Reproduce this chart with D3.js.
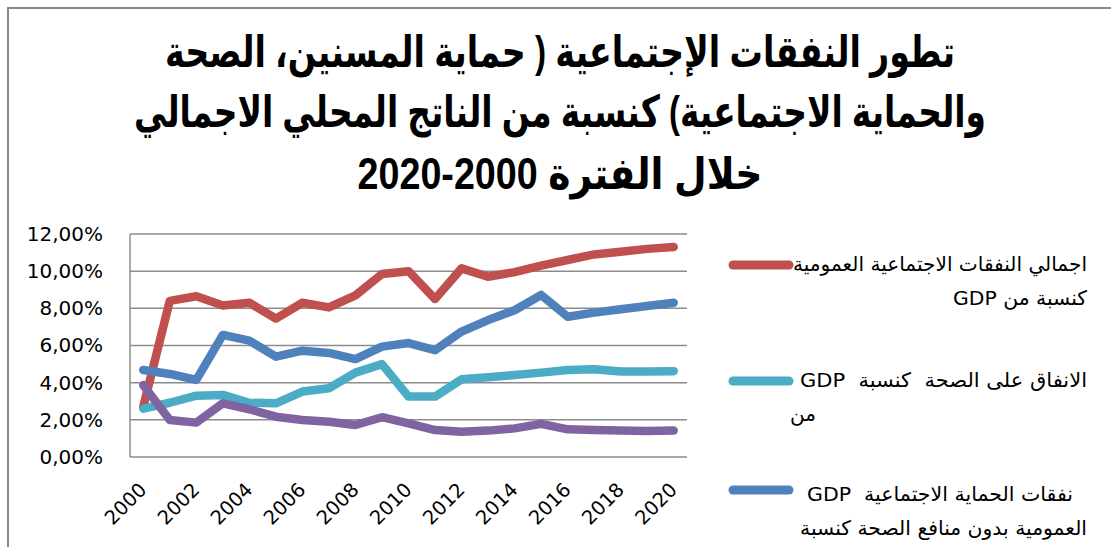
<!DOCTYPE html>
<html>
<head>
<meta charset="utf-8">
<script src="https://cdn.jsdelivr.net/npm/d3@7"></script>
<style>
  html, body { margin: 0; padding: 0; background: #fff; }
  svg { display: block; }
</style>
</head>
<body>
<svg id="chart" width="1111" height="547"></svg>
<script>
// Years on the category axis
const years = d3.range(2000, 2021);

// Series values, share of GDP (%)
const totalSocial = [2.7, 8.4, 8.65, 8.15, 8.3, 7.45, 8.3, 8.05, 8.7, 9.85, 10.0, 8.5, 10.15, 9.7, 9.95, 10.3, 10.6, 10.9, 11.05, 11.2, 11.3];
const healthSpending = [2.6, 2.92, 3.3, 3.34, 2.92, 2.89, 3.52, 3.7, 4.54, 5.0, 3.25, 3.25, 4.18, 4.29, 4.41, 4.54, 4.68, 4.72, 4.6, 4.6, 4.62];
const socialExclHealth = [4.68, 4.47, 4.15, 6.57, 6.26, 5.4, 5.72, 5.6, 5.27, 5.94, 6.13, 5.75, 6.75, 7.37, 7.9, 8.72, 7.55, 7.77, 7.95, 8.13, 8.3];
const elderlyProtection = [3.87, 1.99, 1.85, 2.89, 2.57, 2.17, 1.99, 1.9, 1.72, 2.14, 1.81, 1.45, 1.36, 1.42, 1.54, 1.78, 1.49, 1.45, 1.42, 1.4, 1.42];

// Y axis ticks and labels
const yTicks = [0, 2, 4, 6, 8, 10, 12];
const yTickLabels = ["0,00%", "2,00%", "4,00%", "6,00%", "8,00%", "10,00%", "12,00%"];
// Labelled years on the X axis
const xTickYears = [2000, 2002, 2004, 2006, 2008, 2010, 2012, 2014, 2016, 2018, 2020];

// Title lines (the period is kept left-to-right inside the Arabic line)
const titleLines = [
  "تطور النفقات الإجتماعية ( حماية المسنين، الصحة",
  "والحماية الاجتماعية) كنسبة من الناتج المحلي الاجمالي",
  "خلال الفترة \u202A2020-2000\u202C"
];

// Legend entries (each label wraps over several lines)
const legendLabels = [
  ["اجمالي النفقات الاجتماعية العمومية", "كنسبة من GDP"],
  ["الانفاق على الصحة  كنسبة  GDP", "من"],
  ["نفقات الحماية الاجتماعية  GDP", "العمومية بدون منافع الصحة كنسبة", "من"]
];

const series = [
  { values: totalSocial, color: "#C0504D" },
  { values: healthSpending, color: "#4BACC6" },
  { values: socialExclHealth, color: "#4F81BD" },
  { values: elderlyProtection, color: "#8064A2" }
];

const svg = d3.select("#chart");

// Outer chart frame
svg.append("rect")
  .attr("x", 8).attr("y", 8)
  .attr("width", 1200).attr("height", 700)
  .attr("fill", "none")
  .attr("stroke", "#8a8a8a")
  .attr("stroke-width", 2);

// Title
const titleWidths = [790, 852, 405];
const titleBaselines = [67, 127, 189];
svg.append("g").selectAll("text")
  .data(titleLines)
  .join("text")
  .attr("x", 560)
  .attr("y", (d, i) => titleBaselines[i])
  .attr("text-anchor", "middle")
  .attr("direction", "rtl")
  .attr("font-family", "'Liberation Sans', 'DejaVu Sans', sans-serif")
  .attr("font-weight", "bold")
  .attr("font-size", 44)
  .attr("fill", "#000")
  .attr("textLength", (d, i) => titleWidths[i])
  .attr("lengthAdjust", "spacingAndGlyphs")
  .text(d => d);

// Plot area
const plot = { left: 130, right: 687, top: 234, bottom: 457 };

const x = d3.scalePoint()
  .domain(years)
  .range([plot.left, plot.right])
  .padding(0.5);

const y = d3.scaleLinear()
  .domain([0, 12])
  .range([plot.bottom, plot.top]);

// Horizontal gridlines
svg.append("g")
  .selectAll("line")
  .data(yTicks)
  .join("line")
  .attr("x1", plot.left).attr("x2", plot.right)
  .attr("y1", d => y(d)).attr("y2", d => y(d))
  .attr("stroke", "#8c8c8c")
  .attr("stroke-width", 1.5);

// Vertical value axis line
svg.append("line")
  .attr("x1", plot.left).attr("x2", plot.left)
  .attr("y1", plot.top).attr("y2", plot.bottom)
  .attr("stroke", "#8c8c8c")
  .attr("stroke-width", 1.5);

// Y axis labels
const yAxis = d3.axisLeft(y)
  .tickValues(yTicks)
  .tickSize(0)
  .tickPadding(0)
  .tickFormat((d, i) => yTickLabels[i]);

const yAxisG = svg.append("g")
  .attr("transform", `translate(${plot.left - 27},0)`)
  .call(yAxis);
yAxisG.select(".domain").remove();
yAxisG.selectAll("text")
  .attr("font-family", "'DejaVu Sans', sans-serif")
  .attr("font-size", 20)
  .attr("fill", "#000");

// X axis labels, rotated
const xAxis = d3.axisBottom(x)
  .tickValues(xTickYears)
  .tickSize(0)
  .tickPadding(0);

const xAxisG = svg.append("g")
  .attr("transform", `translate(0,${plot.bottom})`)
  .call(xAxis);
xAxisG.select(".domain").remove();
xAxisG.selectAll(".tick text")
  .attr("font-family", "'DejaVu Sans', sans-serif")
  .attr("font-size", 19.5)
  .attr("fill", "#000")
  .attr("text-anchor", "end")
  .attr("dy", 0)
  .attr("y", 0)
  .attr("transform", "translate(4,34) rotate(-45)");

// Series lines
const line = d3.line()
  .x((d, i) => x(years[i]))
  .y(d => y(d));

svg.append("g")
  .selectAll("path")
  .data(series)
  .join("path")
  .attr("d", d => line(d.values))
  .attr("fill", "none")
  .attr("stroke", d => d.color)
  .attr("stroke-width", 8.5)
  .attr("stroke-linecap", "round")
  .attr("stroke-linejoin", "round");

// Legend
const legendSampleY = [265, 381, 490];
const legendRight = [1087, 1087, 1073];
const legendLineBaselines = [[271, 305], [387, 421], [501, 535, 558]];
const legendLineWidths = [[294, 134], [287, null], [266, 287, null]];

const legend = svg.append("g");
legendLabels.forEach((lines, i) => {
  legend.append("line")
    .attr("x1", 733).attr("x2", 789)
    .attr("y1", legendSampleY[i]).attr("y2", legendSampleY[i])
    .attr("stroke", series[i].color)
    .attr("stroke-width", 9)
    .attr("stroke-linecap", "round");

  lines.forEach((txt, j) => {
    const short = legendLineWidths[i][j] === null;
    // right-to-left text: "start" is the right edge, "end" the left edge
    const t = legend.append("text")
      .attr("x", short ? 790 : (j === 0 ? legendRight[i] : 1087))
      .attr("y", legendLineBaselines[i][j])
      .attr("direction", "rtl")
      .attr("text-anchor", short ? "end" : "start")
      .attr("font-family", "'DejaVu Sans', sans-serif")
      .attr("font-size", 20)
      .attr("fill", "#000")
      .style("white-space", "pre")
      .text(txt);
    if (!short) {
      t.attr("textLength", legendLineWidths[i][j])
       .attr("lengthAdjust", "spacingAndGlyphs");
    }
  });
});
</script>
</body>
</html>
